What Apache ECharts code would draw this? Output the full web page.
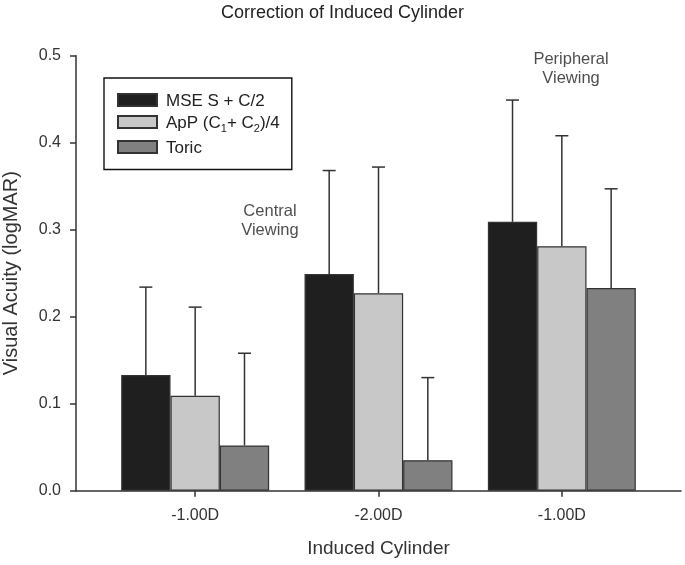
<!DOCTYPE html>
<html>
<head>
<meta charset="utf-8">
<script src="https://cdn.jsdelivr.net/npm/echarts@6/dist/echarts.min.js"></script>
<style>html,body{margin:0;padding:0;background:#fff}#c{width:685px;height:565px}</style>
</head>
<body>
<div id="c"></div>
<script>
const categories = ['-1.00D', '-2.00D', '-1.00D'];
const seriesNames = ['MSE S + C/2', 'ApP (C1+ C2)/4', 'Toric'];
const mseValues = [0.133, 0.249, 0.309];
const appValues = [0.109, 0.227, 0.281];
const toricValues = [0.052, 0.035, 0.233];
const mseErrTop = [0.234, 0.368, 0.449];
const appErrTop = [0.211, 0.372, 0.408];
const toricErrTop = [0.158, 0.130, 0.347];
const yTicks = [0.0, 0.1, 0.2, 0.3, 0.4, 0.5];
const annotations = [
  { text: 'Central\nViewing', x: 1.408, y: 0.31 },
  { text: 'Peripheral\nViewing', x: 3.05, y: 0.485 }
];

const colors = ['#1f1f1f', '#c8c8c8', '#808080'];
const values = [mseValues, appValues, toricValues];
const errTops = [mseErrTop, appErrTop, toricErrTop];
const BAR_GAP_RATIO = 0.193;

const chart = echarts.init(document.getElementById('c'));
const fontFamily = 'Liberation Sans, Arial, sans-serif';

const barSeries = values.map((vals, i) => ({
  name: seriesNames[i],
  type: 'bar',
  xAxisIndex: 1, yAxisIndex: 1,
  data: vals,
  barGap: '0%',
  barCategoryGap: (BAR_GAP_RATIO * 100) + '%',
  itemStyle: { color: colors[i], borderColor: '#333', borderWidth: 1.2 },
  z: 2
}));

const errSeries = values.map((vals, i) => ({
  type: 'custom',
  xAxisIndex: 1, yAxisIndex: 1,
  data: vals.map((v, k) => [k, v, errTops[i][k]]),
  z: 1,
  silent: true,
  renderItem: function (params, api) {
    const band = api.size([1, 0])[0];
    const bw = band * (1 - BAR_GAP_RATIO) / 3;
    const off = (i - 1) * bw;
    const base = api.coord([api.value(0), api.value(1)]);
    const top = api.coord([api.value(0), api.value(2)]);
    const x = base[0] + off;
    const cap = 6.5;
    const st = { stroke: '#333', lineWidth: 1.5 };
    return {
      type: 'group',
      children: [
        { type: 'line', shape: { x1: x, y1: base[1], x2: x, y2: top[1] }, style: st },
        { type: 'line', shape: { x1: x - cap, y1: top[1], x2: x + cap, y2: top[1] }, style: st }
      ]
    };
  }
}));

const option = {
  animation: false,
  backgroundColor: '#fff',
  textStyle: { fontFamily: fontFamily },
  title: {
    text: 'Correction of Induced Cylinder',
    left: 'center', top: -1,
    textStyle: { fontFamily: fontFamily, fontSize: 18, fontWeight: 'normal', color: '#222' }
  },
  legend: {
    orient: 'vertical',
    left: 104, top: 78,
    padding: [14.5, 12, 13, 13],
    itemWidth: 39, itemHeight: 12, itemGap: 5,
    icon: 'rect',
    borderColor: '#111', borderWidth: 1.4,
    selectedMode: false,
    data: seriesNames,
    formatter: function (name) {
      if (name === seriesNames[1]) {
        return '{a|ApP (C}{s|1}{b|+ C}{s|2}{b|)/4}';
      }
      return '{a|' + name + '}';
    },
    textStyle: {
      fontFamily: fontFamily, fontSize: 17, color: '#222',
      rich: {
        a: { fontFamily: fontFamily, fontSize: 17, color: '#222', lineHeight: 19, verticalAlign: 'bottom', padding: [0, 0, 0, 4] },
        b: { fontFamily: fontFamily, fontSize: 17, color: '#222', lineHeight: 19, verticalAlign: 'bottom' },
        s: { fontFamily: fontFamily, fontSize: 11, color: '#222', lineHeight: 11, verticalAlign: 'bottom', padding: [0, 0, -3, 0] }
      }
    }
  },
  grid: [
    { left: 76, right: 4, top: 55.7, bottom: 74.3, containLabel: false, outerBoundsMode: 'none' },
    { left: 103.5, right: 31.5, top: 55.7, bottom: 74.3, containLabel: false, outerBoundsMode: 'none' }
  ],
  xAxis: [
    {
      type: 'value', gridIndex: 0, min: 0.35, max: 3.65,
      axisLine: { show: true, lineStyle: { color: '#333', width: 1.5 } },
      axisTick: { show: false }, axisLabel: { show: false }, splitLine: { show: false },
      name: 'Induced Cylinder', nameLocation: 'middle', nameGap: 49,
      nameTextStyle: { fontFamily: fontFamily, fontSize: 19, color: '#333' }
    },
    {
      type: 'category', gridIndex: 1, data: categories,
      axisLine: { show: false },
      axisTick: { show: true, alignWithLabel: true, length: 6, lineStyle: { color: '#333', width: 1.5 } },
      axisLabel: { margin: 17, fontFamily: fontFamily, fontSize: 16, color: '#333' }
    }
  ],
  yAxis: [
    {
      type: 'value', gridIndex: 0, min: 0, max: 0.5, interval: 0.1,
      axisLine: { show: true, lineStyle: { color: '#333', width: 1.5 } },
      axisTick: { show: true, length: 6, lineStyle: { color: '#333', width: 1.5 } },
      axisLabel: {
        margin: 15, fontFamily: fontFamily, fontSize: 16, color: '#333',
        formatter: v => { const t = yTicks.find(k => Math.abs(k - v) < 1e-9); return (t === undefined ? v : t).toFixed(1); }
      },
      splitLine: { show: false },
      name: 'Visual Acuity (logMAR)', nameLocation: 'middle', nameGap: 55,
      nameTextStyle: { fontFamily: fontFamily, fontSize: 20, color: '#333' }
    },
    {
      type: 'value', gridIndex: 1, min: 0, max: 0.5, interval: 0.1, show: false
    }
  ],
  series: [
    ...barSeries,
    ...errSeries,
    {
      type: 'scatter', xAxisIndex: 0, yAxisIndex: 0,
      symbolSize: 0, silent: true,
      data: annotations.map(a => ({ value: [a.x, a.y], label: { formatter: a.text } })),
      label: {
        show: true, position: 'inside', align: 'center', verticalAlign: 'middle',
        fontFamily: fontFamily, fontSize: 16.5, color: '#222', lineHeight: 18.5
      }
    }
  ]
};
chart.setOption(option);
</script>
</body>
</html>
